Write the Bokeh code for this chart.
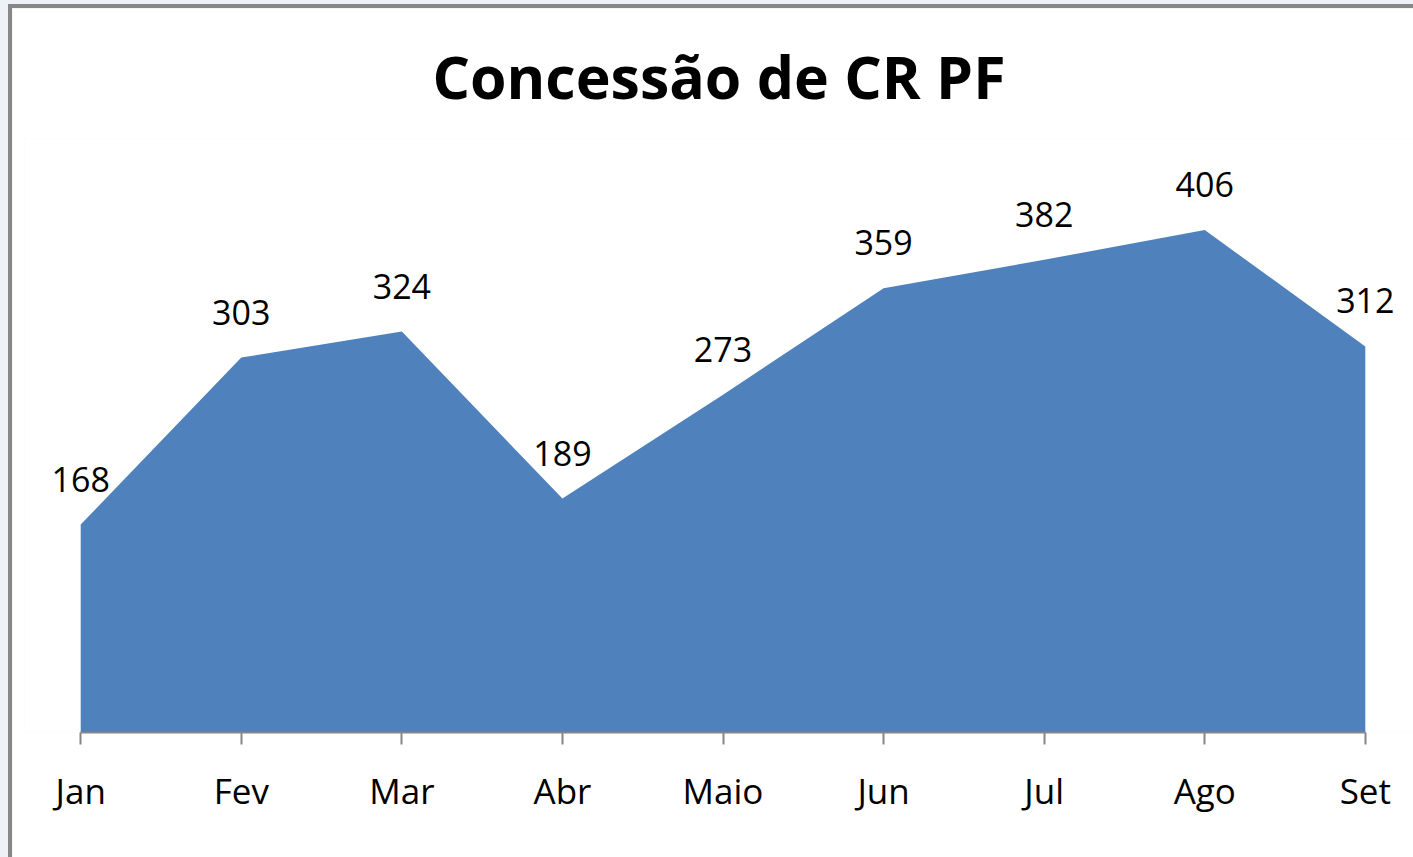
from bokeh.plotting import figure
from bokeh.models import ColumnDataSource, LabelSet, FixedTicker, Range1d
from bokeh.layouts import column
from bokeh.core.properties import value
from bokeh.embed import file_html
from bokeh.resources import INLINE

months = ["Jan", "Fev", "Mar", "Abr", "Maio", "Jun", "Jul", "Ago", "Set"]
values = [168, 303, 324, 189, 273, 359, 382, 406, 312]
title_text = "Concessão de CR PF"

idx = list(range(len(months)))
src = ColumnDataSource(dict(x=idx, y=values, zero=[0] * len(values),
                            lbl=[str(v) for v in values]))

FONT = "Open Sans"

p = figure(width=1405, height=853, output_backend="svg", toolbar_location=None,
           x_range=Range1d(-0.35, len(months) - 1 + 0.3), y_range=Range1d(0, 480),
           min_border_left=12, min_border_right=4, min_border_top=130,
           min_border_bottom=129)
p.styles = {"border-left": "4px solid #878787", "border-top": "4px solid #878787"}
p.background_fill_color = "white"
p.border_fill_color = "white"
p.outline_line_color = None
p.grid.visible = False
p.yaxis.visible = False

p.varea(x="x", y1="zero", y2="y", source=src, fill_color="#4F81BD")

ax = p.xaxis[0]
ax.bounds = (0, len(months) - 1)
ax.ticker = FixedTicker(ticks=idx)
ax.major_label_overrides = {i: m for i, m in zip(idx, months)}
ax.axis_line_color = "#868686"
ax.axis_line_width = 2
ax.major_tick_line_color = "#868686"
ax.major_tick_line_width = 2
ax.major_tick_in = 0
ax.major_tick_out = 12
ax.minor_tick_line_color = None
ax.major_label_text_font = FONT
ax.major_label_text_font_size = "35px"
ax.major_label_text_color = "black"
ax.major_label_standoff = 22

labels = LabelSet(x="x", y="y", text="lbl", source=src, text_align="center",
                  text_baseline="alphabetic", y_offset=33,
                  text_font=value(FONT), text_font_size=value("34px"),
                  text_color="black")
p.add_layout(labels)

p.title.text = title_text
p.title.align = "center"
p.title.text_font = FONT
p.title.text_font_style = "bold"
p.title.text_font_size = "59px"
p.title.text_color = "black"
p.title.standoff = 46

layout = column(p, width=1413, height=857,
                styles={"background-color": "#eef1f6", "padding-left": "8px",
                        "padding-top": "4px", "overflow": "hidden"})

open("out.html", "w").write(file_html(layout, INLINE))
